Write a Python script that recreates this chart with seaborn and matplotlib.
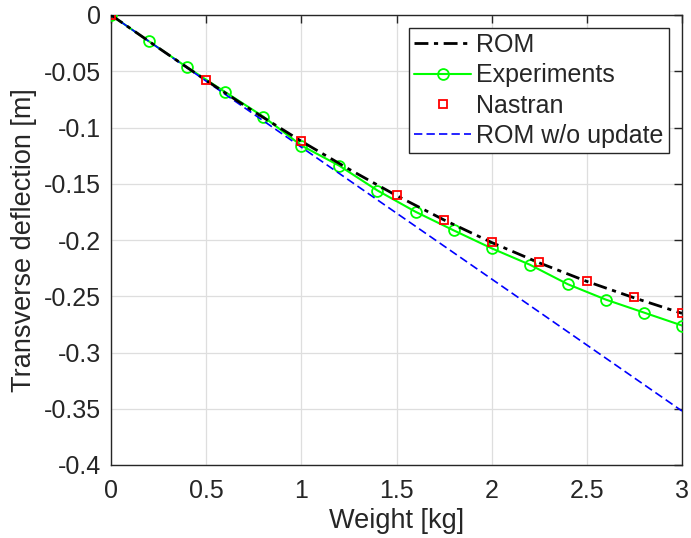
import matplotlib
matplotlib.use("Agg")
import matplotlib.pyplot as plt
import seaborn as sns
import numpy as np
import pandas as pd
from matplotlib.lines import Line2D

# ---- data ----
rom_x = [0, 0.25, 0.5, 0.75, 1.0, 1.25, 1.5, 1.75, 2.0, 2.25, 2.5, 2.75, 3.0]
rom_y = [0, -0.0293, -0.0582, -0.0858, -0.1122, -0.1370, -0.1605, -0.1822,
         -0.2022, -0.2203, -0.2368, -0.2515, -0.2652]

exp_x = [0, 0.2, 0.4, 0.6, 0.8, 1.0, 1.2, 1.4, 1.6, 1.8, 2.0, 2.2, 2.4, 2.6, 2.8, 3.0]
exp_y = [0, -0.0235, -0.0465, -0.0685, -0.0903, -0.1160, -0.1340, -0.1560,
         -0.1749, -0.1914, -0.2074, -0.2219, -0.2393, -0.2530, -0.2645, -0.2760]

nas_x = [0, 0.5, 1.0, 1.5, 1.75, 2.0, 2.25, 2.5, 2.75, 3.0]
nas_y = [0, -0.0582, -0.1124, -0.1603, -0.1822, -0.2018, -0.2195, -0.2364,
         -0.2510, -0.2648]

nou_x = [0, 1.0, 2.0, 3.0]
nou_y = [0, -0.1175, -0.2347, -0.3520]

xticks = [0, 0.5, 1, 1.5, 2, 2.5, 3]
xticklabels = ["0", "0.5", "1", "1.5", "2", "2.5", "3"]
yticks = [0, -0.05, -0.1, -0.15, -0.2, -0.25, -0.3, -0.35, -0.4]
yticklabels = ["0", "-0.05", "-0.1", "-0.15", "-0.2", "-0.25", "-0.3", "-0.35", "-0.4"]

labels = ["ROM", "Experiments", "Nastran", "ROM w/o update"]

# ---- style ----
sns.set_theme(style="white")
plt.rcParams["font.family"] = ["Liberation Sans", "DejaVu Sans"]
plt.rcParams["axes.unicode_minus"] = False
txt = "#262626"

rom_ls = (0, (5, 2, 1.5, 2))
nou_ls = (0, (5, 2.5))

fig = plt.figure(figsize=(6.91, 5.38), dpi=100)
ax = fig.add_axes([111/691, 1 - 465/538, 571/691, 450/538])

df_exp = pd.DataFrame({"x": exp_x, "y": exp_y})
df_nou = pd.DataFrame({"x": nou_x, "y": nou_y})
df_rom = pd.DataFrame({"x": rom_x, "y": rom_y})
df_nas = pd.DataFrame({"x": nas_x, "y": nas_y})

sns.lineplot(data=df_exp, x="x", y="y", ax=ax, color=(0, 1, 0), lw=1.5,
             marker="o", markersize=7.8, mfc="none", mec=(0, 1, 0), mew=1.3,
             sort=False, estimator=None, zorder=3)
sns.lineplot(data=df_nou, x="x", y="y", ax=ax, color=(0, 0, 1), lw=1.2,
             linestyle=nou_ls, sort=False, estimator=None, zorder=4)
sns.lineplot(data=df_rom, x="x", y="y", ax=ax, color="black", lw=2.0,
             linestyle=rom_ls, sort=False, estimator=None, zorder=5)
sns.lineplot(data=df_nas, x="x", y="y", ax=ax, color="red", lw=0,
             linestyle="none", marker="s", markersize=6.2, mfc="none",
             mec="red", mew=1.3, sort=False, estimator=None, zorder=6)

ax.set_xlim(0, 3)
ax.set_ylim(-0.4, 0)
ax.set_xticks(xticks)
ax.set_xticklabels(xticklabels)
ax.set_yticks(yticks)
ax.set_yticklabels(yticklabels)
ax.grid(True, color="#dedede", lw=0.9)
ax.set_axisbelow(True)
for s in ax.spines.values():
    s.set_color(txt)
    s.set_linewidth(1.0)
    s.set_visible(True)
ax.tick_params(direction="in", length=6, width=1.0, colors=txt,
               labelsize=18, top=True, right=True)
ax.tick_params(axis="x", pad=10)
ax.tick_params(axis="y", pad=7)
ax.set_xlabel("Weight [kg]", fontsize=19.5, color=txt, labelpad=4)
ax.set_ylabel("Transverse deflection [m]", fontsize=19.5, color=txt, labelpad=5)

handles = [
    Line2D([], [], color="black", lw=2.0, linestyle=rom_ls),
    Line2D([], [], color=(0, 1, 0), lw=1.5, marker="o", markersize=7.8,
           mfc="none", mec=(0, 1, 0), mew=1.3),
    Line2D([], [], color="red", linestyle="none", marker="s", markersize=6.2,
           mfc="none", mec="red", mew=1.3),
    Line2D([], [], color=(0, 0, 1), lw=1.2, linestyle=nou_ls),
]
leg = ax.legend(handles, labels, loc="upper right", bbox_to_anchor=(0.977, 0.971),
                fontsize=18, frameon=True, fancybox=False, framealpha=1,
                edgecolor=txt, borderpad=0.2, labelspacing=0.25,
                handlelength=2.3, handletextpad=0.2, borderaxespad=0.0)
leg.get_frame().set_linewidth(1.0)
for t in leg.get_texts():
    t.set_color(txt)

fig.savefig("out.png", dpi=100)
